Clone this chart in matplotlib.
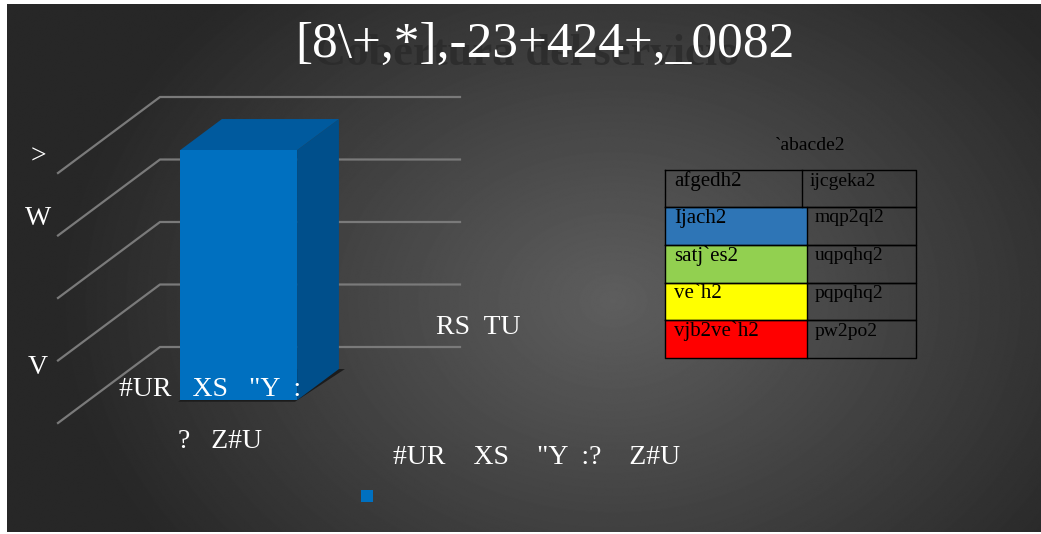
import numpy as np
import matplotlib.pyplot as plt
from matplotlib.patches import Polygon, Rectangle

# datos (texto tal como aparece en la imagen)
titulo = "[8\\+,*],-23+424+,_0082"
titulo_sombra = "Cobertura del servicio"
categoria = ['#UR   XS   "Y  :', '?   Z#U']
valores = [4]
etiqueta_valor = "RS  TU"
yticks = [0, 1, 2, 3, 4]
ytick_labels = ["", "V", "", "W", ">"]
ytick_ajuste = [0, -0.12, 0, 0.27, 0.25]  # desplazamiento vertical de las etiquetas
leyenda_texto = '#UR    XS    "Y  :?    Z#U'

tabla_titulo = "`abacde2"
tabla_col1 = ["afgedh2", "Ijach2", "satj`es2", "ve`h2", "vjb2ve`h2"]
tabla_col2 = ["ijcgeka2", "mqp2ql2", "uqpqhq2", "pqpqhq2", "pw2po2"]
tabla_colores = [None, "#2E75B6", "#92D050", "#FFFF00", "#FF0000"]

fuente = ["Liberation Serif", "DejaVu Serif"]

W, H = 1041, 534
fig = plt.figure(figsize=(W / 100, H / 100), dpi=100, facecolor="white")

# fondo en coordenadas de pixel
bg = fig.add_axes([0, 0, 1, 1])
yy, xx = np.mgrid[0:H, 0:W]
r = np.sqrt(((xx - 610) / 560) ** 2 + ((yy - 300) / 430) ** 2)
gris = np.clip(0x5e - (0x5e - 0x27) * r, 0x27, 0x5e) / 255
bg.imshow(gris, cmap="gray", vmin=0, vmax=1, extent=(7, W, 532, 4), aspect="auto")
bg.set_xlim(0, W)
bg.set_ylim(H, 0)
bg.axis("off")

# ejes del grafico (plano frontal)
ax = fig.add_axes([58 / W, (H - 423) / H, 300 / W, 250 / H])
ax.set_xlim(-0.5, 0.5)
ax.set_ylim(0, 4)
ax.axis("off")
DX, DY = 102, 76  # profundidad en pixeles

def proj(x, v, d):
    p = ax.transData.transform((x, v)) + d * np.array([DX, DY])
    return bg.transData.inverted().transform(p)

# lineas de la cuadricula (pared izquierda y fondo)
for v in yticks:
    pts = np.array([proj(-0.5, v, 0), proj(-0.5, v, 1), proj(0.5, v, 1)])
    bg.plot(pts[:, 0], pts[:, 1], color="#7a7a7a", lw=1.6, zorder=2)

for v, lab, aj in zip(yticks, ytick_labels, ytick_ajuste):
    if lab:
        px, py = proj(-0.5, v + aj, 0)
        bg.text(px - 20, py, lab, color="white", fontsize=20, family=fuente,
                ha="center", va="center", zorder=5)

# barra 3D
ancho, d0, d1 = 0.39, 0.3, 0.71
for i, val in enumerate(valores):
    x0, x1 = i - ancho / 2, i + ancho / 2
    lado = [proj(x1, 0, d0), proj(x1, 0, d1), proj(x1, val, d1), proj(x1, val, d0)]
    tapa = [proj(x0, val, d0), proj(x1, val, d0), proj(x1, val, d1), proj(x0, val, d1)]
    frente = [proj(x0, 0, d0), proj(x1, 0, d0), proj(x1, val, d0), proj(x0, val, d0)]
    sombra = [proj(x0, 0, d0 - 0.02), proj(x1, 0, d0 - 0.02), proj(x1 + 0.02, 0, d1), proj(x0, 0, d1)]
    bg.add_patch(Polygon(sombra, closed=True, fc="#1c1c1c", ec="none", zorder=3))
    bg.add_patch(Polygon(lado, closed=True, fc="#004F8B", ec="none", zorder=3))
    bg.add_patch(Polygon(tapa, closed=True, fc="#005A9E", ec="none", zorder=3))
    bg.add_patch(Polygon(frente, closed=True, fc="#0070C0", ec="none", zorder=4))

# etiqueta de categoria (dos lineas)
cx, cy = proj(0, 0, 0)
bg.text(cx + 2, cy - 34, categoria[0], color="white", fontsize=20, family=fuente,
        ha="center", va="center", zorder=6)
bg.text(cx + 12, cy + 18, categoria[1], color="white", fontsize=20, family=fuente,
        ha="center", va="center", zorder=6)

# etiqueta de valor
bg.text(478, 327, etiqueta_valor, color="white", fontsize=20, family=fuente,
        ha="center", va="center", zorder=6)

# titulo con sombra
bg.text(527, 54, titulo_sombra, color="#2a2a2a", fontsize=32, fontweight="bold",
        family=fuente, ha="center", va="center", alpha=0.8, zorder=5)
bg.text(545, 45, titulo, color="white", fontsize=37, family=fuente,
        ha="center", va="center", zorder=6)

# leyenda inferior
bg.add_patch(Rectangle((361, 490), 12, 12, fc="#0070C0", ec="none", zorder=5))
bg.text(537, 458, leyenda_texto, color="white", fontsize=20, family=fuente,
        ha="center", va="center", zorder=6)

# tabla a la derecha
bg.text(810, 145, tabla_titulo, color="black", fontsize=14, family=fuente,
        ha="center", va="center", zorder=6)
filas = [170, 207, 245, 283, 320, 358]
x0t, x1t = 665, 916
for k in range(len(tabla_col1)):
    top, bot = filas[k], filas[k + 1]
    xm = 802 if k == 0 else 807
    if tabla_colores[k]:
        bg.add_patch(Rectangle((x0t, top), xm - x0t, bot - top, fc=tabla_colores[k],
                               ec="none", zorder=5))
    bg.plot([x0t, x1t, x1t, x0t, x0t], [top, top, bot, bot, top], color="black", lw=1, zorder=6)
    bg.plot([xm, xm], [top, bot], color="black", lw=1, zorder=6)
    bg.text(x0t + 9, top + 11, tabla_col1[k], color="black", fontsize=15, family=fuente,
            ha="left", va="center", zorder=7)
    bg.text(xm + 8, top + 11, tabla_col2[k], color="black", fontsize=14, family=fuente,
            ha="left", va="center", zorder=7)

fig.savefig("out.png", dpi=100, facecolor="white")
